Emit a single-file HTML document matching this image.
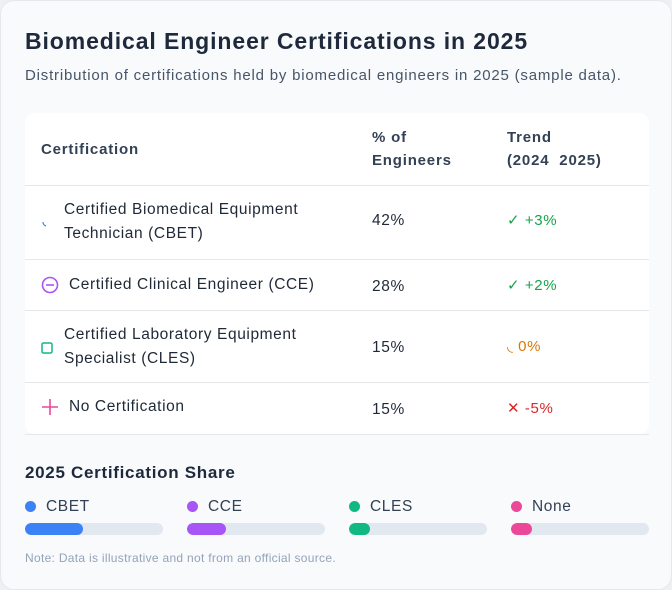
<!DOCTYPE html>
<html><head><meta charset="utf-8"><style>
*{box-sizing:border-box;margin:0;padding:0}
body{width:672px;height:590px;background:#eef0f3;font-family:"Liberation Sans",sans-serif;overflow:hidden;letter-spacing:0.6px}
.card{position:absolute;left:0;top:0;width:672px;height:590px;background:#f8fafc;border:1px solid #e5e7eb;border-radius:14px}
h1{position:absolute;left:24px;top:27px;font-size:23px;font-weight:bold;color:#1e293b;letter-spacing:0.9px}
.sub{position:absolute;left:24px;top:66px;font-size:15px;color:#475569;letter-spacing:0.8px}
.tbl{position:absolute;left:24px;top:112px;width:624px;height:321px;background:#fff;border-radius:10px}
.th{position:absolute;font-size:15px;font-weight:bold;color:#334155;line-height:23px;letter-spacing:0.8px}
.row{position:absolute;left:0;width:624px;border-top:1px solid #e5e7eb}
.cell{position:absolute;font-size:15.5px;color:#1f2937;line-height:24px}
.tr{position:absolute;left:482px;font-size:15px}
.ic{position:absolute;left:16px}
.sh{position:absolute;left:24px;top:462px;font-size:17px;font-weight:bold;color:#1e293b;letter-spacing:0.7px}
.leg{position:absolute;top:497px;font-size:15.5px;color:#334155}
.dot{display:inline-block;width:11px;height:11px;border-radius:50%;margin-right:10px;vertical-align:-1px}
.track{position:absolute;top:522px;width:138px;height:12px;border-radius:6px;background:#e2e8f0;overflow:hidden}
.fill{height:12px;border-radius:6px}
.note{position:absolute;left:24px;top:550px;font-size:12px;color:#94a3b8;letter-spacing:0.3px}
</style></head><body>
<div class="card">
<h1>Biomedical Engineer Certifications in 2025</h1>
<div class="sub">Distribution of certifications held by biomedical engineers in 2025 (sample data).</div>
<div class="tbl">
<div class="th" style="left:16px;top:25px">Certification</div>
<div class="th" style="left:347px;top:13px">% of<br>Engineers</div>
<div class="th" style="left:482px;top:13px">Trend<br>(2024&nbsp;&nbsp;2025)</div>
<div class="row" style="top:72px;height:74px">
<svg class="ic" style="top:30px" width="12" height="12"><path d="M2 6 A4 4 0 0 0 5 10" stroke="#3b82f6" stroke-width="1.2" fill="none"/></svg>
<div class="cell" style="left:39px;top:12px">Certified Biomedical Equipment<br>Technician (CBET)</div>
<div class="cell" style="left:347px;top:23px">42%</div>
<div class="tr" style="top:25px;color:#16a34a">✓ +3%</div></div>
<div class="row" style="top:146px;height:51px">
<svg class="ic" style="top:16px" width="18" height="18"><circle cx="9" cy="9" r="7.5" stroke="#a855f7" stroke-width="1.6" fill="none"/><line x1="5" y1="9" x2="13" y2="9" stroke="#a855f7" stroke-width="1.6"/></svg>
<div class="cell" style="left:44px;top:13px">Certified Clinical Engineer (CCE)</div>
<div class="cell" style="left:347px;top:15px">28%</div>
<div class="tr" style="top:16px;color:#16a34a">✓ +2%</div></div>
<div class="row" style="top:197px;height:72px">
<svg class="ic" style="top:31px" width="12" height="12"><rect x="1" y="1" width="10" height="10" rx="1.5" stroke="#10b981" stroke-width="1.5" fill="none"/></svg>
<div class="cell" style="left:39px;top:12px">Certified Laboratory Equipment<br>Specialist (CLES)</div>
<div class="cell" style="left:347px;top:25px">15%</div>
<div class="tr" style="top:26px;color:#d97706">◟ 0%</div></div>
<div class="row" style="top:269px;height:52px">
<svg class="ic" style="top:15px" width="18" height="18"><path d="M9 1V17M1 9H17" stroke="#ec4899" stroke-width="1.6"/></svg>
<div class="cell" style="left:44px;top:12px">No Certification</div>
<div class="cell" style="left:347px;top:15px">15%</div>
<div class="tr" style="top:16px;color:#dc2626">✕ -5%</div></div>
<div class="row" style="top:321px;height:0"></div>
</div>
<div class="sh">2025 Certification Share</div>
<div id="share"></div>
<div class="note">Note: Data is illustrative and not from an official source.</div>
</div>
<script>
const categories=["CBET","CCE","CLES","None"];
const shares=[42,28,15,15];
const colors=["#3b82f6","#a855f7","#10b981","#ec4899"];
const host=document.getElementById('share');
categories.forEach((c,i)=>{
 const x=24+i*162;
 const l=document.createElement('div');l.className='leg';l.style.left=x+'px';
 l.innerHTML='<span class="dot" style="background:'+colors[i]+'"></span>'+c;
 
 
 host.appendChild(l);
 const t=document.createElement('div');t.className='track';t.style.left=x+'px';
 
 
 const f=document.createElement('div');f.className='fill';f.style.width=(shares[i]/100*138)+'px';f.style.background=colors[i];
 
 
 t.appendChild(f);host.appendChild(t);
});
</script>
</body></html>
